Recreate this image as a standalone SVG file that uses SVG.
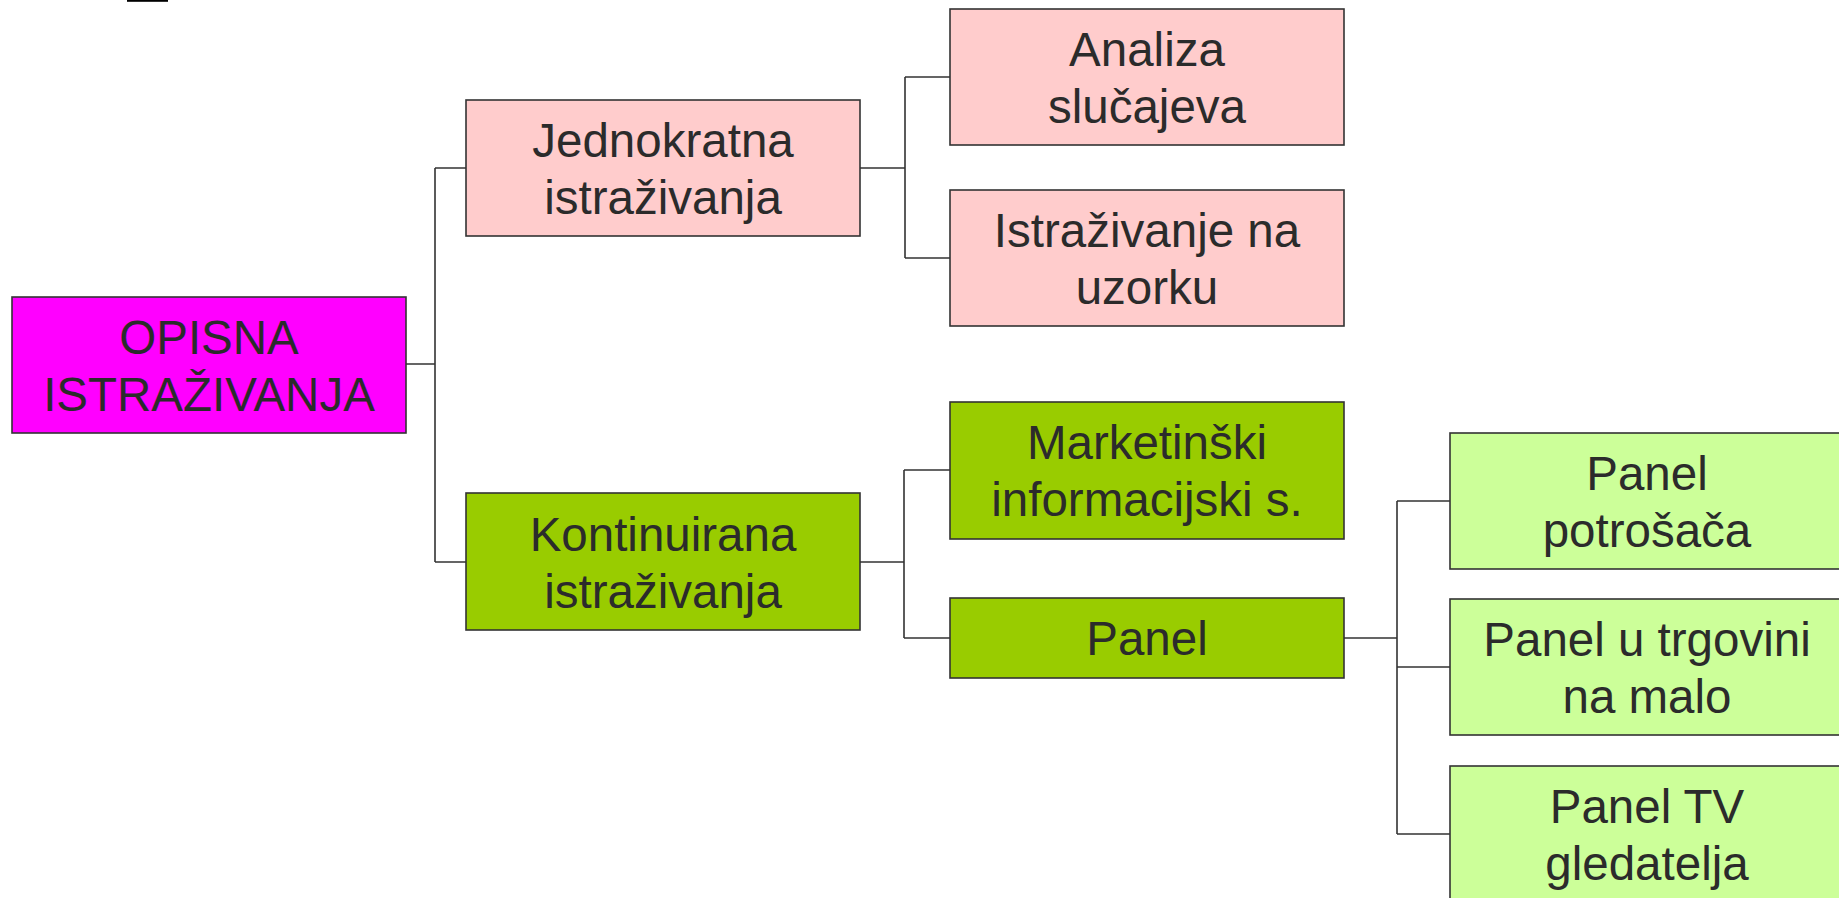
<svg xmlns="http://www.w3.org/2000/svg" width="1839" height="898" viewBox="0 0 1839 898">
<style>
.box{stroke:#333;stroke-width:1.6}
.root{fill:#FF00FF}
.pink{fill:#FFCCCC}
.dgreen{fill:#99CC00}
.lgreen{fill:#CCFF99}
text{font-family:"Liberation Sans",Arial,sans-serif;font-size:47.5px;fill:#2b2b2b;text-anchor:middle}
.conn{fill:none;stroke:#333;stroke-width:1.6}
</style>
<rect x="127" y="-2" width="41" height="3.8" fill="#000"/>
<g id="connectors">
<path class="conn" d="M406 364 H435 M435 168 V562 M435 168 H466 M435 562 H466"/>
<path class="conn" d="M860 168 H905 M905 77 V258 M905 77 H950 M905 258 H950"/>
<path class="conn" d="M860 562 H904 M904 470 V638 M904 470 H950 M904 638 H950"/>
<path class="conn" d="M1344 638 H1397 M1397 501 V834 M1397 501 H1450 M1397 667 H1450 M1397 834 H1450"/>
</g>
<g id="n-root"><rect class="box root" x="12" y="297" width="394" height="136"/><text x="209" y="354">OPISNA</text><text x="209" y="411">ISTRAŽIVANJA</text></g>
<g id="n-jednokratna"><rect class="box pink" x="466" y="100" width="394" height="136"/><text x="663" y="157">Jednokratna</text><text x="663" y="214">istraživanja</text></g>
<g id="n-analiza"><rect class="box pink" x="950" y="9" width="394" height="136"/><text x="1147" y="66">Analiza</text><text x="1147" y="123">slučajeva</text></g>
<g id="n-uzorak"><rect class="box pink" x="950" y="190" width="394" height="136"/><text x="1147" y="247">Istraživanje na</text><text x="1147" y="304">uzorku</text></g>
<g id="n-kontinuirana"><rect class="box dgreen" x="466" y="493" width="394" height="137"/><text x="663" y="551">Kontinuirana</text><text x="663" y="608">istraživanja</text></g>
<g id="n-mis"><rect class="box dgreen" x="950" y="402" width="394" height="137"/><text x="1147" y="459">Marketinški</text><text x="1147" y="516">informacijski s.</text></g>
<g id="n-panel"><rect class="box dgreen" x="950" y="598" width="394" height="80"/><text x="1147" y="655">Panel</text></g>
<g id="n-potrosaca"><rect class="box lgreen" x="1450" y="433" width="394" height="136"/><text x="1647" y="490">Panel</text><text x="1647" y="547">potrošača</text></g>
<g id="n-trgovina"><rect class="box lgreen" x="1450" y="599" width="394" height="136"/><text x="1647" y="656">Panel u trgovini</text><text x="1647" y="713">na malo</text></g>
<g id="n-tv"><rect class="box lgreen" x="1450" y="766" width="394" height="136"/><text x="1647" y="823">Panel TV</text><text x="1647" y="880">gledatelja</text></g>
</svg>
